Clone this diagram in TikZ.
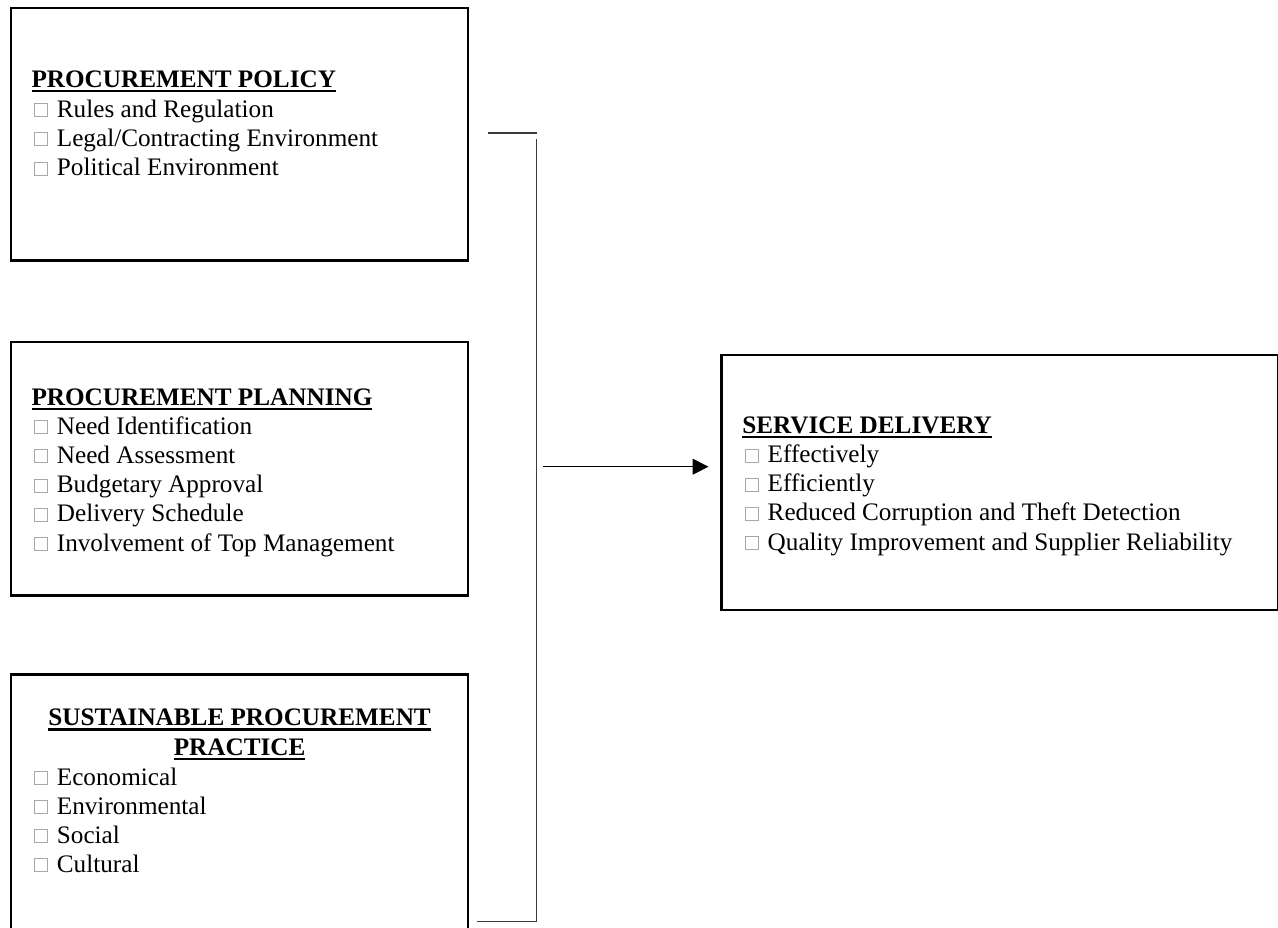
\documentclass[tikz,border=0pt]{standalone}
\usepackage{fontspec}
\setmainfont{Liberation Serif}
\usetikzlibrary{arrows.meta}
\definecolor{bulgray}{HTML}{A8A8A8}
\definecolor{brkgray}{HTML}{3A3A3A}
\newsavebox{\hdsave}
\newcommand{\bul}{\hspace*{2.8pt}\textcolor{bulgray}{\setlength{\fboxsep}{0pt}\setlength{\fboxrule}{1pt}\raisebox{1pt}{\fbox{\rule{0pt}{12pt}\hspace{12pt}}}}\hspace{8.6pt}}
\newcommand{\hd}[1]{\sbox{\hdsave}{\bfseries #1}\rlap{\rule[-5pt]{\wd\hdsave}{2.5pt}}\usebox{\hdsave}}
\tikzset{
  frame/.style={draw=black, line width=2.4pt, inner sep=0pt, outer sep=0pt, anchor=north west},
  txt/.style={anchor=base west, inner sep=0pt, outer sep=0pt, font=\fontsize{25.2}{29.2}\selectfont},
  ctxt/.style={txt, anchor=base},
  brk/.style={draw=brkgray, line width=1.1pt},
  arr/.style={draw=black, line width=1pt, -{Triangle[length=16pt,width=16pt]}}
}
\begin{document}
\begin{tikzpicture}[x=1pt, y=-1pt]
\useasboundingbox (0,0) rectangle (1278,928);
\clip (0,0) rectangle (1278,928);
% boxes
\node[frame, minimum width=456.8pt, minimum height=252.8pt] (b1) at (11.2,7.9) {};
\node[frame, minimum width=456.8pt, minimum height=253.3pt] (b2) at (11.2,342.2) {};
\node[frame, minimum width=456.8pt, minimum height=265pt] (b3) at (11.2,674.5) {};
\node[frame, minimum width=557.2pt, minimum height=254.5pt] (b4) at (721.3,355.2) {};
% box 1
\node[txt] (h1) at (31.5,87.5) {\hd{PROCUREMENT POLICY}};
\node[txt] (p1) at (31.5,117.3) {\bul Rules and Regulation};
\node[txt] (p2) at (31.5,146.5) {\bul Legal/Contracting Environment};
\node[txt] (p3) at (31.5,175.7) {\bul Political Environment};
% box 2
\node[txt] (h2) at (31.5,405) {\hd{PROCUREMENT PLANNING}};
\node[txt] (q1) at (31.5,434.2) {\bul Need Identification};
\node[txt] (q2) at (31.5,463.4) {\bul Need Assessment};
\node[txt] (q3) at (31.5,492.6) {\bul Budgetary Approval};
\node[txt] (q4) at (31.5,521.8) {\bul Delivery Schedule};
\node[txt] (q5) at (31.5,551) {\bul Involvement of Top Management};
% box 3
\node[ctxt] (h3a) at (239.6,725.7) {\hd{SUSTAINABLE PROCUREMENT}};
\node[ctxt] (h3b) at (239.6,755) {\hd{PRACTICE}};
\node[txt] (s1) at (31.5,785) {\bul Economical};
\node[txt] (s2) at (31.5,814.1) {\bul Environmental};
\node[txt] (s3) at (31.5,843) {\bul Social};
\node[txt] (s4) at (31.5,872) {\bul Cultural};
% box 4
\node[txt] (h4) at (742.3,433.3) {\hd{SERVICE DELIVERY}};
\node[txt] (r1) at (742.3,462.6) {\bul Effectively};
\node[txt] (r2) at (742.3,491.7) {\bul Efficiently};
\node[txt] (r3) at (742.3,520.9) {\bul Reduced Corruption and Theft Detection};
\node[txt] (r4) at (742.3,550.1) {\bul Quality Improvement and Supplier Reliability};
% bracket
\coordinate (t0) at (488,133);
\coordinate (t1) at (536.5,133);
\coordinate (v0) at (536.5,139);
\coordinate (v1) at (536.5,921.5);
\coordinate (u0) at (477,921.5);
\draw[brk] (t0) -- (t1);
\draw[brk] (v0) -- (v1) -- (u0);
% arrow
\coordinate (a0) at (543,466.7);
\coordinate (a1) at (708.5,466.7);
\draw[arr] (a0) -- (a1);
\end{tikzpicture}
\end{document}
